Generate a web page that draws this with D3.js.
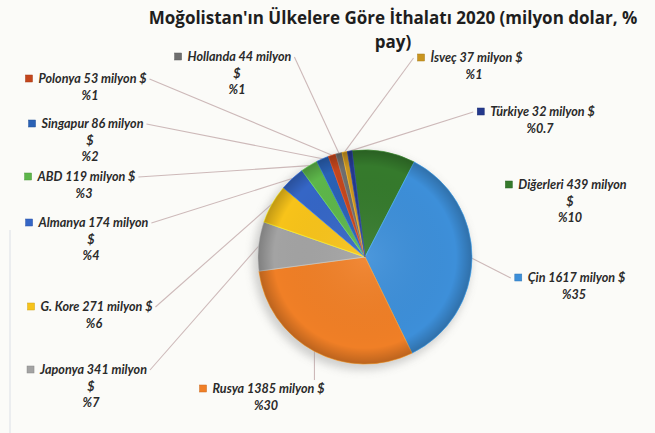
<!DOCTYPE html>
<html>
<head>
<meta charset="utf-8">
<title>Moğolistan İthalatı 2020</title>
<script src="https://d3js.org/d3.v7.min.js"></script>
<style>
  body { margin: 0; background: #fbfbf8; }
  svg { display: block; }
  .title { font-family: "Open Sans", sans-serif; font-weight: bold; font-size: 17px; fill: #1e1e1e; }
  .lbl { font-family: Lato, "Open Sans", sans-serif; font-style: italic; font-weight: bold; font-size: 12.6px; fill: #2a2a2a; }
  .leader { stroke: #cdb9b9; stroke-width: 1.1; fill: none; }
</style>
</head>
<body>
<svg id="chart"></svg>
<script>
// data (clockwise order from the top of the pie)
var countries = ["Diğerleri", "Çin", "Rusya", "Japonya", "G. Kore", "Almanya", "ABD", "Singapur", "Polonya", "Hollanda", "İsveç", "Türkiye"];
var values = [439, 1617, 1385, 341, 271, 174, 119, 86, 53, 44, 37, 32];
var shares = ["10", "35", "30", "7", "6", "4", "3", "2", "1", "1", "1", "0.7"];
var colors = ["#357a2c", "#3d8fd9", "#f07f26", "#a3a3a3", "#f7c31a", "#3566c6", "#5db64a", "#2a61b5", "#c4461c", "#6e6e6e", "#c99520", "#24398c"];

// label layout: block centre x, first baseline y, whether "$" wraps, leader anchor
var labelLayout = [
  { cx: 566, y: 189, wrap: true,  anchor: "none" },
  { cx: 570, y: 282, wrap: false, anchor: "left" },
  { cx: 262, y: 393, wrap: false, anchor: "top" },
  { cx: 87,  y: 374, wrap: true,  anchor: "right" },
  { cx: 90,  y: 311, wrap: false, anchor: "right" },
  { cx: 87,  y: 227, wrap: true,  anchor: "right" },
  { cx: 80,  y: 181, wrap: false, anchor: "right" },
  { cx: 86,  y: 128, wrap: true,  anchor: "right" },
  { cx: 86,  y: 83,  wrap: false, anchor: "right" },
  { cx: 233, y: 61,  wrap: true,  anchor: "right" },
  { cx: 470, y: 62,  wrap: false, anchor: "left" },
  { cx: 536, y: 116, wrap: false, anchor: "left" }
];

var width = 655, height = 433;
var cx = 365, cy = 257, radius = 107;
var lineGap = 16.5;

var svg = d3.select("#chart").attr("width", width).attr("height", height);

var defs = svg.append("defs");
var shade = defs.append("radialGradient").attr("id", "shade");
shade.append("stop").attr("offset", "0%").attr("stop-color", "#fff").attr("stop-opacity", 0.08);
shade.append("stop").attr("offset", "85%").attr("stop-color", "#000").attr("stop-opacity", 0.0);
shade.append("stop").attr("offset", "100%").attr("stop-color", "#000").attr("stop-opacity", 0.22);
defs.append("filter").attr("id", "blur").append("feGaussianBlur").attr("stdDeviation", 4);

// faint scan edge on the left
svg.append("line").attr("x1", 10).attr("x2", 10).attr("y1", 230).attr("y2", height)
  .attr("stroke", "#e6e8ec").attr("stroke-width", 1.5);

// title
var title = svg.append("text").attr("class", "title").attr("text-anchor", "middle");
title.append("tspan").attr("x", 393).attr("y", 24).text("Moğolistan'ın Ülkelere Göre İthalatı 2020 (milyon dolar, %");
title.append("tspan").attr("x", 393).attr("y", 48).text("pay)");

var data = countries.map(function(c, i) {
  return { name: c, value: values[i], share: shares[i], color: colors[i], layout: labelLayout[i] };
});

var startA = -7 * Math.PI / 180;
var pie = d3.pie().sort(null).value(function(d) { return d.value; })
  .startAngle(startA).endAngle(startA + 2 * Math.PI);
var arcs = pie(data);
var arc = d3.arc().innerRadius(0).outerRadius(radius);

var g = svg.append("g").attr("transform", "translate(" + cx + "," + cy + ")");

// soft shadow
g.append("circle").attr("cx", -3).attr("cy", 4).attr("r", radius + 2)
  .attr("fill", "#9a9a9a").attr("opacity", 0.45).attr("filter", "url(#blur)");

g.selectAll("path.slice")
  .data(arcs)
  .enter().append("path")
    .attr("class", "slice")
    .attr("d", arc)
    .attr("fill", function(d) { return d.data.color; })
    .attr("stroke", function(d) { return d3.color(d.data.color).brighter(0.6); })
    .attr("stroke-width", 0.8);

g.append("circle").attr("r", radius).attr("fill", "url(#shade)");

// labels
var edge = d3.arc().innerRadius(radius).outerRadius(radius);
var labels = svg.append("g");

arcs.forEach(function(a) {
  var d = a.data, L = d.layout;
  var first = d.name + " " + d.value + " milyon" + (L.wrap ? "" : " $");
  var rest = L.wrap ? ["$", "%" + d.share] : ["%" + d.share];

  var t = labels.append("text").attr("class", "lbl").attr("x", 0).attr("y", L.y).text(first);
  var w = t.node().getComputedTextLength();
  var sq = 7, gap = 6;
  var full = sq + gap + w;
  var left = L.cx - full / 2;
  t.attr("x", left + sq + gap);
  labels.append("rect")
    .attr("x", left).attr("y", L.y - 8).attr("width", sq).attr("height", sq)
    .attr("fill", d.color).attr("stroke", d3.color(d.color).darker(0.5)).attr("stroke-width", 0.5);
  rest.forEach(function(s, k) {
    labels.append("text").attr("class", "lbl").attr("text-anchor", "middle")
      .attr("x", L.cx + 4).attr("y", L.y + lineGap * (k + 1)).text(s);
  });

  var p = edge.centroid(a);
  var px = cx + p[0], py = cy + p[1];
  var sx, sy;
  if (L.anchor === "none") return;
  if (L.anchor === "right") { sx = left + full + 3; sy = L.y - 4; }
  else if (L.anchor === "left") { sx = left - 4; sy = L.y - 4; }
  else { sx = px; sy = L.y - 13; }
  svg.insert("line", "g").attr("class", "leader")
    .attr("x1", sx).attr("y1", sy).attr("x2", px).attr("y2", py);
});
</script>
</body>
</html>
